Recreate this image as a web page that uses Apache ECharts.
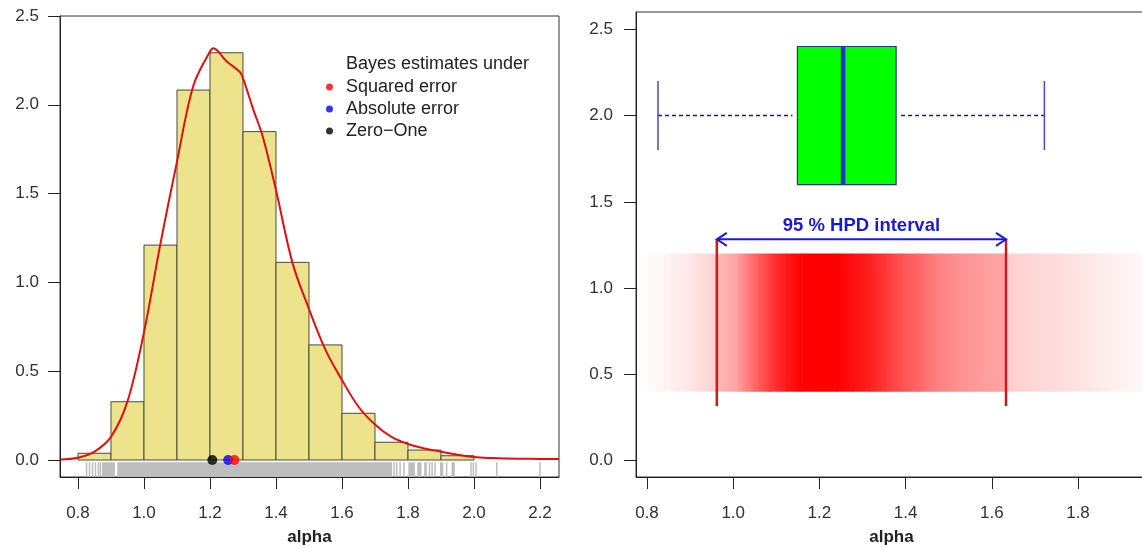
<!DOCTYPE html>
<html><head><meta charset="utf-8">
<script src="https://cdn.jsdelivr.net/npm/echarts@6/dist/echarts.min.js"></script>
<style>html,body{margin:0;padding:0;background:#fff}#c{width:1142px;height:548px}</style>
</head><body><div id="c"></div>
<script>
// ---------- data ----------
const binEdges = [0.8,0.9,1.0,1.1,1.2,1.3,1.4,1.5,1.6,1.7,1.8,1.9,2.0];
const binHeights = [0.038,0.328,1.21,2.083,2.293,1.849,1.113,0.648,0.263,0.10,0.056,0.024];
const densX = [0.7455,0.8,0.85,0.9,0.95,1.0,1.05,1.1,1.15,1.2,1.21,1.25,1.29,1.3,1.33,1.36,1.4,1.45,1.5,1.55,1.6,1.65,1.7,1.75,1.8,1.85,1.9,1.95,2.0,2.05,2.1,2.15,2.2,2.2576];
const densY = [0.003,0.013,0.047,0.13,0.33,0.72,1.22,1.68,2.11,2.30,2.318,2.245,2.186,2.15,1.98,1.82,1.52,1.11,0.85,0.62,0.45,0.30,0.20,0.13,0.09,0.065,0.047,0.03,0.017,0.011,0.008,0.007,0.006,0.005];
const rugTicks = [0.826,0.835,0.844,0.853,0.862,0.868,1.758,1.766,1.776,1.788,1.865,1.873,1.882,1.917,1.991,1.998,2.006,2.069,2.2];
const rugBands = [[0.873,0.912],[0.919,1.752],[1.801,1.821],[1.828,1.841],[1.849,1.857],[1.897,1.907],[1.932,1.942]];
const estNames = ['Squared error','Absolute error','Zero\u2212One'];
const estValues = [1.274,1.255,1.207];
const boxStats = [0.8255,1.149,1.255,1.378,1.722]; // lower whisker, Q1, median, Q3, upper whisker
const hpd = [0.962,1.633];
const bandX = [0.7745,0.813,0.85,0.89,0.93,0.962,0.962,1.007,1.045,1.083,1.122,1.16,1.24,1.277,1.315,1.354,1.393,1.43,1.47,1.509,1.547,1.586,1.633,1.633,1.663,1.72,1.78,1.85,1.93,1.96];
const bandAlpha = [0.0,0.02,0.05,0.09,0.14,0.19,0.27,0.37,0.57,0.76,0.9,1.0,1.0,0.94,0.88,0.78,0.67,0.6,0.5,0.45,0.41,0.38,0.36,0.2,0.18,0.15,0.12,0.08,0.04,0.03];
const xTicksL = [0.8,1.0,1.2,1.4,1.6,1.8,2.0,2.2];
const yTicksL = [0,0.5,1.0,1.5,2.0,2.5];
const xTicksR = [0.8,1.0,1.2,1.4,1.6,1.8];
const yTicksR = [0,0.5,1.0,1.5,2.0,2.5];

// ---------- chart ----------
const FONT = '"Liberation Sans", Arial, sans-serif';
const chart = echarts.init(document.getElementById('c'), null, {renderer:'canvas'});
const yMinL = -0.0957, yMinR = -0.0944;
const fmt = v => Number(v).toFixed(1);
function redOf(a){ const g = Math.round(255*(1-a)); return 'rgb(255,'+g+','+g+')'; }

function xAxis(gi, min, max, ticks){
  return {type:'value', gridIndex:gi, min:min, max:max, z:10,
    axisLine:{show:true, onZero:false, lineStyle:{color:'#222', width:1}},
    axisTick:{show:true, length:12, customValues:ticks, lineStyle:{color:'#222'}},
    axisLabel:{show:true, customValues:ticks, formatter:fmt, margin:28, fontSize:17, fontFamily:FONT, color:'#333'},
    splitLine:{show:false},
    name:'alpha', nameLocation:'middle', nameGap:52,
    nameTextStyle:{fontSize:17, fontWeight:'bold', fontFamily:FONT, color:'#222'}};
}
function yAxis(gi, min, max, ticks, margin){
  return {type:'value', gridIndex:gi, min:min, max:max, z:10,
    axisLine:{show:true, onZero:false, lineStyle:{color:'#222', width:1}},
    axisTick:{show:true, length:12, customValues:ticks, lineStyle:{color:'#222'}},
    axisLabel:{show:true, customValues:ticks, formatter:fmt, margin:margin, fontSize:17, fontFamily:FONT, color:'#333'},
    splitLine:{show:false}};
}

const option = {
  animation:false,
  backgroundColor:'#fff',
  title:{text:'Bayes estimates under', left:346, top:55, padding:0,
    textStyle:{fontSize:18, fontWeight:'normal', fontFamily:FONT, color:'#222'}},
  legend:{data:estNames, orient:'vertical', left:326, top:78, padding:0,
    itemWidth:7, itemHeight:7, itemGap:4, icon:'circle',
    textStyle:{fontSize:18, fontFamily:FONT, color:'#222', lineHeight:18, padding:[0,0,0,8]}},
  grid:[
    {left:60, top:16, width:499, height:461, outerBoundsMode:'none', containLabel:false, show:true, borderColor:'#333', borderWidth:1, backgroundColor:'transparent'},
    {left:636, top:12, width:511, height:465, outerBoundsMode:'none', containLabel:false, show:true, borderColor:'#333', borderWidth:1, backgroundColor:'transparent'}
  ],
  xAxis:[xAxis(0,0.7455,2.2576,xTicksL), xAxis(1,0.7745,1.9601,xTicksR)],
  yAxis:[yAxis(0,yMinL,2.5,yTicksL,21), yAxis(1,yMinR,2.6,yTicksR,23)],
  series:[
    // rug
    {type:'custom', xAxisIndex:0, yAxisIndex:0, clip:true, z:1, silent:true,
      data: rugTicks.map(v=>[v, v]),
      encode:{x:[0,1]},
      renderItem:function(p, api){
        const v = api.value(0);
        const a = api.coord([v, -0.013]), b = api.coord([v, yMinL]);
        return {type:'line', shape:{x1:a[0], y1:a[1], x2:b[0], y2:b[1]}, style:{stroke:'#bdbdbd', lineWidth:1.5}};
      }},
    {type:'custom', xAxisIndex:0, yAxisIndex:0, clip:true, z:1, silent:true,
      data: rugBands, encode:{x:[0,1]},
      renderItem:function(p, api){
        const a = api.coord([api.value(0), -0.013]), b = api.coord([api.value(1), yMinL]);
        return {type:'rect', shape:{x:a[0], y:a[1], width:b[0]-a[0], height:b[1]-a[1]}, style:{fill:'#bdbdbd'}};
      }},
    // histogram
    {type:'custom', xAxisIndex:0, yAxisIndex:0, clip:true, z:2, silent:true,
      data: binHeights.map((h,i)=>[binEdges[i], binEdges[i+1], h]),
      encode:{x:[0,1], y:2},
      renderItem:function(p, api){
        const a = api.coord([api.value(0), api.value(2)]), b = api.coord([api.value(1), 0]);
        return {type:'rect', shape:{x:a[0], y:a[1], width:b[0]-a[0], height:b[1]-a[1]},
          style:{fill:'#EEE38D', stroke:'#4a4a3c', lineWidth:1}};
      }},
    // density
    {type:'line', xAxisIndex:0, yAxisIndex:0, z:3, silent:true, showSymbol:false, smooth:0.35,
      data: densX.map((x,i)=>[x, densY[i]]),
      lineStyle:{color:'#e01010', width:2}},
    // estimates
    {name:estNames[2], type:'scatter', xAxisIndex:0, yAxisIndex:0, z:4, symbolSize:10, data:[[estValues[2],0]], itemStyle:{color:'#000'}},
    {name:estNames[1], type:'scatter', xAxisIndex:0, yAxisIndex:0, z:4, symbolSize:10, data:[[estValues[1],0]], itemStyle:{color:'#0000ff'}},
    {name:estNames[0], type:'scatter', xAxisIndex:0, yAxisIndex:0, z:4, symbolSize:10, data:[[estValues[0],0]], itemStyle:{color:'#ff0000'}},
    // gradient band
    {type:'custom', xAxisIndex:1, yAxisIndex:1, clip:true, z:1, silent:true,
      data: bandX.slice(0,-1).map((x,i)=>[x, bandX[i+1], bandAlpha[i], bandAlpha[i+1]]),
      encode:{x:[0,1]},
      renderItem:function(p, api){
        const x0 = api.value(0), x1 = api.value(1);
        if (x1 <= x0) return null;
        const a = api.coord([x0, 1.2]), b = api.coord([x1, 0.4]);
        return {type:'rect', shape:{x:a[0], y:a[1], width:b[0]-a[0]+0.6, height:b[1]-a[1]},
          style:{fill:new echarts.graphic.LinearGradient(0,0,1,0,[{offset:0,color:redOf(api.value(2))},{offset:1,color:redOf(api.value(3))}])}};
      }},
    // HPD lines, arrow and label
    {type:'custom', xAxisIndex:1, yAxisIndex:1, clip:false, z:3, silent:true,
      data:[hpd], encode:{x:[0,1]},
      renderItem:function(p, api){
        const lo = api.value(0), hi = api.value(1);
        const l1 = api.coord([lo, 1.283]), l0 = api.coord([lo, 0.317]);
        const r1 = api.coord([hi, 1.283]), r0 = api.coord([hi, 0.317]);
        const blue = '#1a1ae0';
        const mid = api.coord([(lo+hi)/2, 1.283]);
        return {type:'group', children:[
          {type:'line', shape:{x1:l1[0], y1:l1[1], x2:l0[0], y2:l0[1]}, style:{stroke:'#c81c1c', lineWidth:2.5}},
          {type:'line', shape:{x1:r1[0], y1:r1[1], x2:r0[0], y2:r0[1]}, style:{stroke:'#c81c1c', lineWidth:2.5}},
          {type:'line', shape:{x1:l1[0], y1:l1[1], x2:r1[0], y2:r1[1]}, style:{stroke:blue, lineWidth:2}},
          {type:'polyline', shape:{points:[[l1[0]+10,l1[1]-6.5],[l1[0],l1[1]],[l1[0]+10,l1[1]+6.5]]}, style:{stroke:blue, lineWidth:2, fill:null}},
          {type:'polyline', shape:{points:[[r1[0]-10,r1[1]-6.5],[r1[0],r1[1]],[r1[0]-10,r1[1]+6.5]]}, style:{stroke:blue, lineWidth:2, fill:null}},
          {type:'text', x:mid[0], y:mid[1]-13, style:{text:'95 % HPD interval', fill:'#1a1ad0', font:'bold 18.5px '+FONT, align:'center', verticalAlign:'middle'}}
        ]};
      }},
    // box plot
    {type:'custom', xAxisIndex:1, yAxisIndex:1, clip:true, z:3, silent:true,
      data:[boxStats], encode:{x:[0,1,2,3,4]},
      renderItem:function(p, api){
        const wl = api.value(0), q1 = api.value(1), md = api.value(2), q3 = api.value(3), wh = api.value(4);
        const c = 2.0, h = 0.4, ch = 0.2;
        const bt = api.coord([q1, c+h]), bb = api.coord([q3, c-h]);
        const m1 = api.coord([md, c+h]), m0 = api.coord([md, c-h]);
        const wlT = api.coord([wl, c+ch]), wlB = api.coord([wl, c-ch]);
        const whT = api.coord([wh, c+ch]), whB = api.coord([wh, c-ch]);
        const wlc = api.coord([wl, c]), q1c = api.coord([q1, c]), q3c = api.coord([q3, c]), whc = api.coord([wh, c]);
        const dash = {stroke:'#1c1c78', lineWidth:1.4, lineDash:[4,3]};
        return {type:'group', children:[
          {type:'line', shape:{x1:wlc[0], y1:wlc[1], x2:q1c[0]-5, y2:q1c[1]}, style:dash},
          {type:'line', shape:{x1:q3c[0]+5, y1:q3c[1], x2:whc[0], y2:whc[1]}, style:dash},
          {type:'line', shape:{x1:wlT[0], y1:wlT[1], x2:wlB[0], y2:wlB[1]}, style:{stroke:'#4a4ac4', lineWidth:1.5}},
          {type:'line', shape:{x1:whT[0], y1:whT[1], x2:whB[0], y2:whB[1]}, style:{stroke:'#4a4ac4', lineWidth:1.5}},
          {type:'rect', shape:{x:bt[0], y:bt[1], width:bb[0]-bt[0], height:bb[1]-bt[1]}, style:{fill:'#00ff00', stroke:'#22338a', lineWidth:1.2}},
          {type:'line', shape:{x1:m1[0], y1:m1[1], x2:m0[0], y2:m0[1]}, style:{stroke:'#2233cc', lineWidth:4.5}}
        ]};
      }}
  ]
};
chart.setOption(option);
</script>
</body></html>
